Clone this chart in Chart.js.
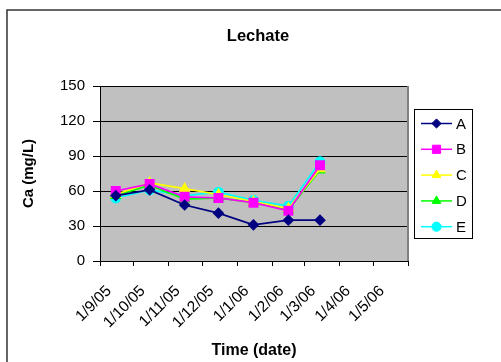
<!DOCTYPE html>
<html>
<head>
<meta charset="utf-8">
<title>Lechate</title>
<script src="https://cdn.jsdelivr.net/npm/chart.js@4"></script>
<style>
  html, body { margin: 0; padding: 0; background: #fff; }
  #wrap { width: 501px; height: 362px; }
</style>
</head>
<body>
<div id="wrap"><canvas id="caChart" width="501" height="362"></canvas></div>
<script>
// sampling dates (d/m/yy in the original) and Ca values per site
const sampleDates = ['2005-09-15', '2005-10-15', '2005-11-15', '2005-12-15', '2006-01-15', '2006-02-15', '2006-03-15'];
const seriesNames = ['A', 'B', 'C', 'D', 'E'];
const siteA = [56, 61, 48, 41, 31, 35, 35];
const siteB = [60, 66, 55, 54, 50, 43, 82];
const siteC = [57, 67, 62, 57, 51, 45, 79];
const siteD = [56, 65, 53, 54, 50, 44, 78];
const siteE = [54, 61, 56, 59, 52, 47, 85];

// x axis ticks: first of each month, labels as in the sheet
const tickDates = ['2005-09-01', '2005-10-01', '2005-11-01', '2005-12-01', '2006-01-01', '2006-02-01', '2006-03-01', '2006-04-01', '2006-05-01', '2006-06-01'];
const tickLabels = ['1/9/05', '1/10/05', '1/11/05', '1/12/05', '1/1/06', '1/2/06', '1/3/06', '1/4/06', '1/5/06', ''];
const yTicks = [0, 30, 60, 90, 120, 150];

const FONT = '"Liberation Sans", Arial, sans-serif';

// days since the first tick, so a linear scale works like a date axis
const day0 = Date.parse(tickDates[0]);
function toDay(s) {
    return Math.round((Date.parse(s) - day0) / 86400000);
}
const tickDays = tickDates.map(toDay);

function makeSet(label, values, color, style, radius) {
    return {
        label: label,
        data: values.map((v, i) => ({ x: toDay(sampleDates[i]), y: v })),
        borderColor: color,
        backgroundColor: color,
        pointBackgroundColor: color,
        pointBorderColor: color,
        pointStyle: style,
        pointRadius: radius,
        borderWidth: 1.75,
        tension: 0
    };
}

const datasets = [
    makeSet(seriesNames[0], siteA, '#000080', 'rectRot', 4.6),
    makeSet(seriesNames[1], siteB, '#ff00ff', 'rect', 5.8),
    makeSet(seriesNames[2], siteC, '#ffff00', 'triangle', 5),
    makeSet(seriesNames[3], siteD, '#00ff00', 'triangle', 5),
    makeSet(seriesNames[4], siteE, '#00ffff', 'circle', 4.6)
];

// frame, grey plot area, title and excel-style legend
const excelLook = {
    id: 'excelLook',
    beforeDraw(chart) {
        const ctx = chart.ctx;
        const a = chart.chartArea;
        ctx.save();
        ctx.fillStyle = '#ffffff';
        ctx.fillRect(0, 0, chart.width, chart.height);
        ctx.strokeStyle = '#333333';
        ctx.lineWidth = 1.5;
        ctx.beginPath();
        ctx.moveTo(7, chart.height);
        ctx.lineTo(7, 10);
        ctx.lineTo(chart.width, 10);
        ctx.stroke();
        ctx.fillStyle = '#c0c0c0';
        ctx.fillRect(a.left, a.top, a.right - a.left, a.bottom - a.top);
        ctx.fillStyle = '#000';
        ctx.font = 'bold 16.5px ' + FONT;
        ctx.textAlign = 'center';
        ctx.textBaseline = 'middle';
        ctx.fillText('Lechate', 258, 36);
        ctx.restore();
    },
    beforeDatasetsDraw(chart) {
        const ctx = chart.ctx;
        const a = chart.chartArea;
        ctx.save();
        ctx.strokeStyle = '#808080';
        ctx.lineWidth = 2;
        ctx.beginPath();
        ctx.moveTo(a.right, a.top);
        ctx.lineTo(a.right, a.bottom);
        ctx.stroke();
        ctx.restore();
    },
    afterDraw(chart) {
        const ctx = chart.ctx;
        const boxX = 414.5, boxY = 109.5, boxW = 58, boxH = 129;
        ctx.save();
        ctx.fillStyle = '#ffffff';
        ctx.fillRect(boxX, boxY, boxW, boxH);
        ctx.strokeStyle = '#000';
        ctx.lineWidth = 1;
        ctx.strokeRect(boxX, boxY, boxW, boxH);
        chart.data.datasets.forEach((ds, i) => {
            const y = 123.5 + i * 25.8;
            ctx.strokeStyle = ds.borderColor;
            ctx.lineWidth = 1.5;
            ctx.beginPath();
            ctx.moveTo(421, y);
            ctx.lineTo(452, y);
            ctx.stroke();
            ctx.fillStyle = ds.pointBackgroundColor;
            ctx.strokeStyle = ds.pointBorderColor;
            ctx.lineWidth = 1;
            Chart.helpers.drawPoint(ctx, { pointStyle: ds.pointStyle, radius: ds.pointRadius, rotation: 0, borderWidth: 1 }, 436.5, y);
            ctx.fillStyle = '#000';
            ctx.font = '15px ' + FONT;
            ctx.textAlign = 'left';
            ctx.textBaseline = 'middle';
            ctx.fillText(ds.label, 456, y + 1);
        });
        ctx.restore();
    }
};

new Chart(document.getElementById('caChart'), {
    type: 'line',
    data: { datasets: datasets },
    options: {
        responsive: false,
        animation: false,
        layout: { padding: { left: 0, top: 86, right: 93, bottom: 0 } },
        plugins: {
            legend: { display: false },
            title: { display: false },
            tooltip: { enabled: false }
        },
        scales: {
            x: {
                type: 'linear',
                min: tickDays[0],
                max: tickDays[tickDays.length - 1],
                afterBuildTicks: (scale) => {
                    scale.ticks = tickDays.map(v => ({ value: v }));
                },
                afterFit: (scale) => { scale.height = 101; },
                ticks: {
                    autoSkip: false,
                    minRotation: 45,
                    maxRotation: 45,
                    padding: 16,
                    labelOffset: 9,
                    color: '#000',
                    font: { family: FONT, size: 15.5 },
                    callback: (value) => {
                        const i = tickDays.indexOf(value);
                        return i >= 0 ? tickLabels[i] : '';
                    }
                },
                grid: {
                    drawOnChartArea: false,
                    drawTicks: true,
                    tickLength: 5,
                    color: '#000'
                },
                border: { color: '#000', width: 1 },
                title: {
                    display: true,
                    text: 'Time (date)',
                    color: '#000',
                    font: { family: FONT, size: 16, weight: 'bold' },
                    padding: { top: 0, bottom: 2 }
                }
            },
            y: {
                min: yTicks[0],
                max: yTicks[yTicks.length - 1],
                afterBuildTicks: (scale) => {
                    scale.ticks = yTicks.map(v => ({ value: v }));
                },
                afterFit: (scale) => { scale.width = 100; },
                ticks: {
                    padding: 8,
                    color: '#000',
                    font: { family: FONT, size: 15 }
                },
                grid: {
                    color: '#000',
                    tickLength: 7,
                    lineWidth: 1
                },
                border: { color: '#000', width: 1 },
                title: {
                    display: true,
                    text: 'Ca (mg/L)',
                    color: '#000',
                    font: { family: FONT, size: 15, weight: 'bold' },
                    padding: { top: 20, bottom: 0 }
                }
            }
        }
    },
    plugins: [excelLook]
});
</script>
</body>
</html>
